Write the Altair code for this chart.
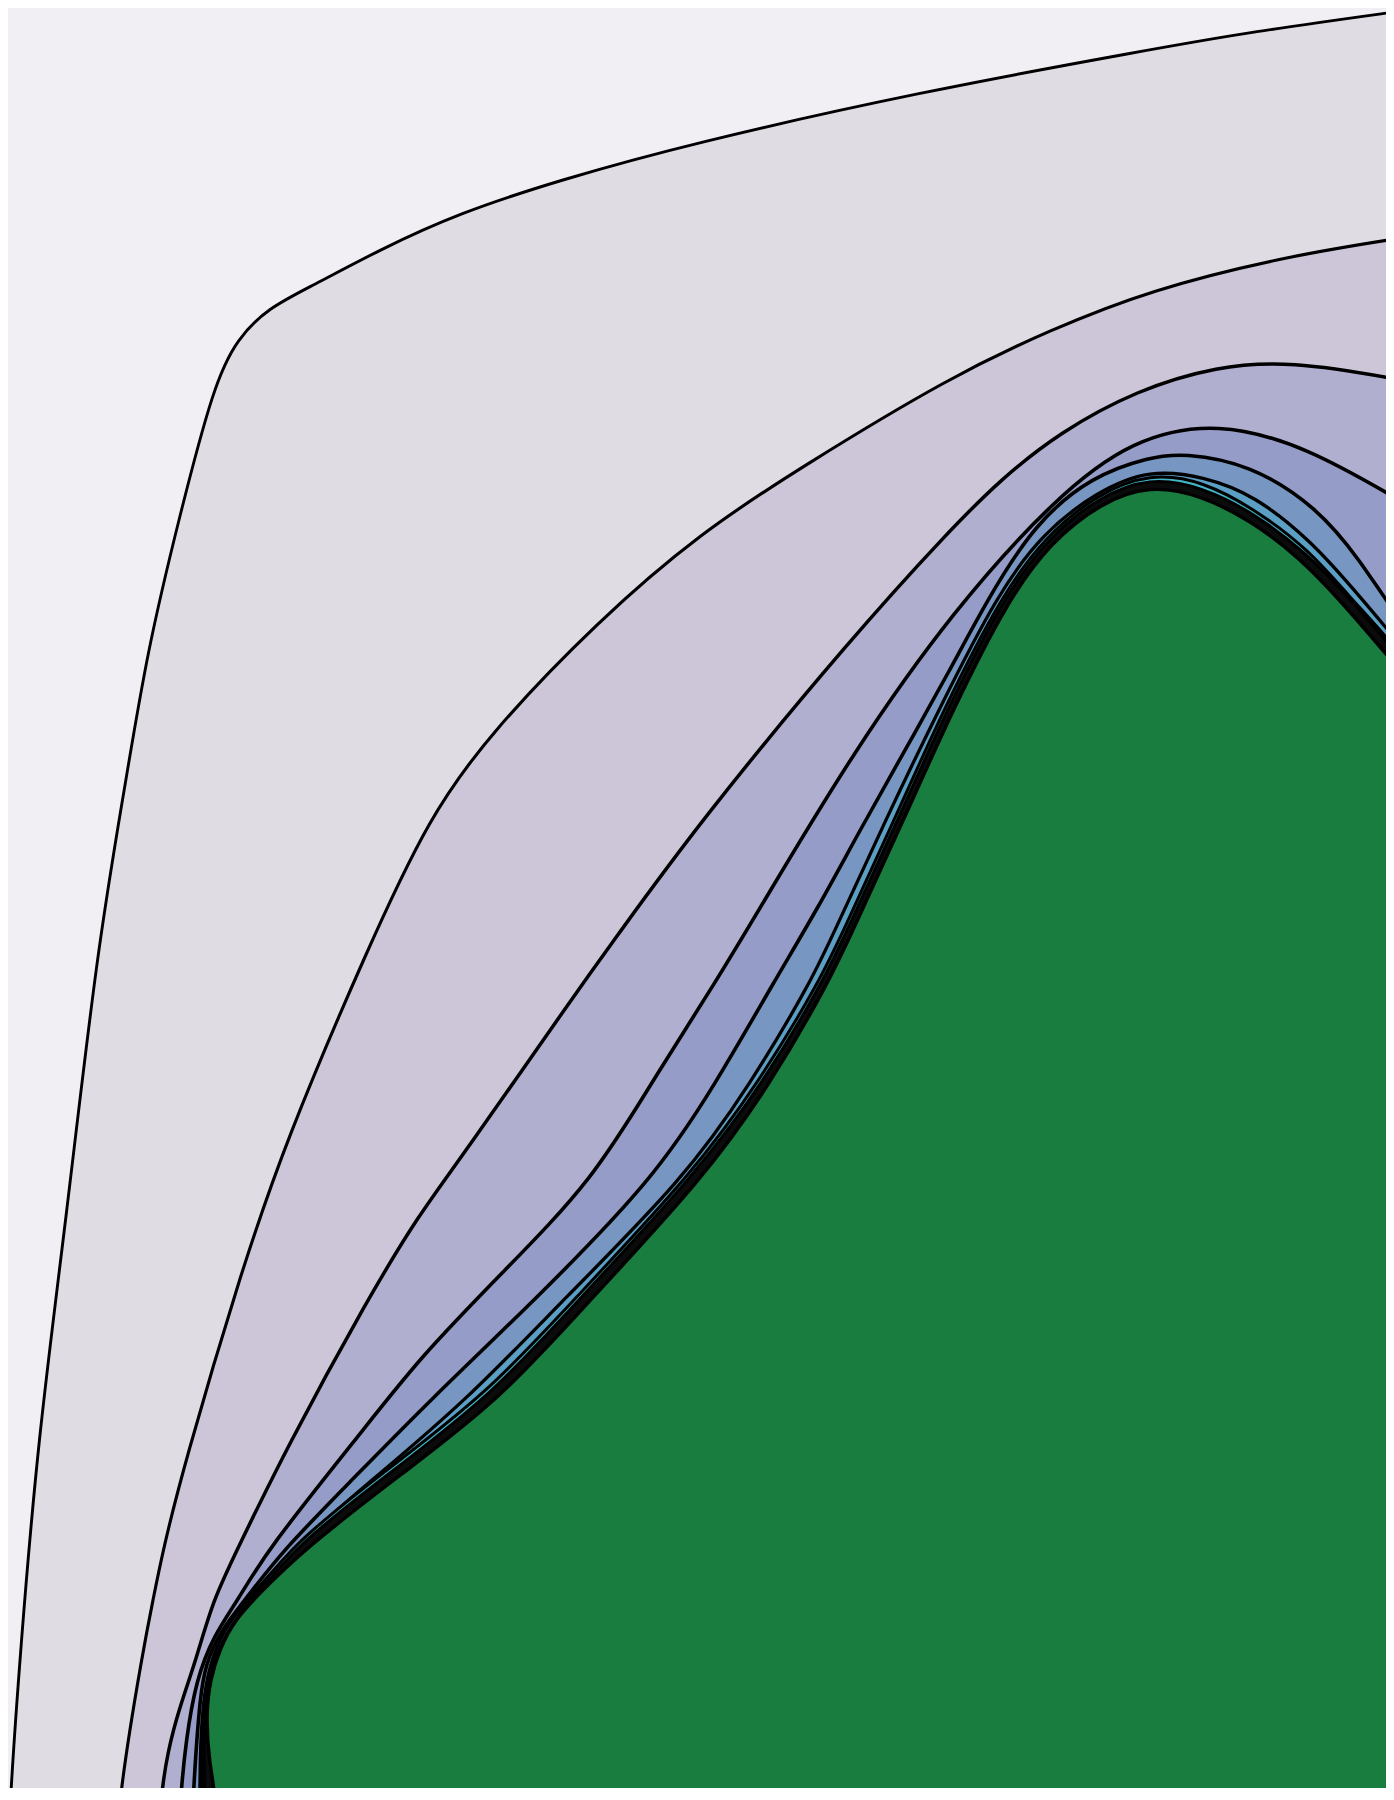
import altair as alt
import pandas as pd

# ---- contour bands (outer -> inner), x/y in reference pixel units ----
# each list: lead-in point, traced contour (bottom edge -> right edge), lead-out points
c1_x = [7, 10, 20, 38, 66, 97, 125, 147, 179, 214, 237, 268, 312, 379, 459, 560, 689, 919, 1148, 1250, 1394, 1460, 1530, 1800]
c1_y = [1880, 1800, 1655, 1438, 1221, 950, 786, 652, 518, 384, 339, 308, 286, 250, 213, 180, 144, 92, 50, 32, 12, 3, -7, 2300]

c2_x = [115, 118, 143, 153, 163, 184, 240, 286, 367, 429, 491, 598, 700, 803, 950, 1050, 1150, 1283, 1394, 1460, 1530, 1800]
c2_y = [1880, 1800, 1650, 1600, 1550, 1465, 1275, 1140, 950, 817, 732, 621, 533, 466, 377, 330, 290, 257, 239, 229, 218, 2300]

c3_x = [157, 160, 168, 179, 196, 213, 237, 286, 367, 420, 459, 585, 607, 700, 853, 950, 1000, 1060, 1137, 1217, 1290, 1394, 1460, 1530, 1800]
c3_y = [1880, 1800, 1750, 1709, 1660, 1600, 1550, 1449, 1300, 1213, 1161, 980, 950, 821, 636, 530, 480, 432, 390, 366, 361, 378, 392, 405, 2300]

c4_x = [177, 180, 186, 196, 214, 238, 267, 357, 420, 505, 593, 653, 717, 760, 853, 954, 1056, 1132, 1218, 1309, 1394, 1460, 1530, 1800]
c4_y = [1880, 1800, 1740, 1680, 1635, 1600, 1550, 1438, 1357, 1270, 1180, 1080, 980, 908, 752, 609, 497, 439, 421, 448, 497, 535, 580, 2300]

c5_x = [190, 193, 196, 200, 205, 221, 245, 283, 352, 430, 535, 653, 715, 775, 818, 860, 904, 950, 987, 1035, 1092, 1150, 1183, 1250, 1317, 1360, 1394, 1460, 1530, 1800]
c5_y = [1880, 1800, 1750, 1700, 1665, 1630, 1600, 1550, 1480, 1400, 1300, 1180, 1085, 980, 908, 830, 752, 670, 600, 523, 476, 457, 453, 464, 507, 560, 613, 700, 790, 2300]

c6_x = [198, 200, 200, 202, 207, 218, 233, 248, 290, 372, 467, 563, 683, 750, 812, 835, 886, 940, 998, 1043, 1096, 1150, 1205, 1254, 1310, 1350, 1394, 1460, 1530, 1800]
c6_y = [1880, 1800, 1760, 1715, 1675, 1642, 1617, 1600, 1550, 1480, 1400, 1300, 1180, 1085, 980, 930, 819, 707, 593, 533, 492, 469, 477, 495, 540, 585, 637, 718, 805, 2300]

c7_x = [201, 203, 202, 203, 208, 220, 236, 251, 293, 392, 490, 580, 691, 760, 822, 845, 896, 946, 1002, 1045, 1097, 1150, 1203, 1256, 1308, 1348, 1394, 1460, 1530, 1800]
c7_y = [1880, 1800, 1760, 1715, 1677, 1645, 1618, 1600, 1543, 1466, 1391, 1293, 1175, 1081, 977, 927, 816, 704, 595, 537, 494, 473, 481, 510, 549, 595, 645, 724, 812, 2300]

c8_x = [203, 205, 204, 204, 209, 222, 238, 253, 296, 395, 493, 583, 694, 764, 825, 848, 899, 949, 1004, 1047, 1098, 1150, 1202, 1254, 1305, 1346, 1394, 1460, 1530, 1800]
c8_y = [1880, 1800, 1760, 1715, 1678, 1646, 1619, 1600, 1545, 1469, 1394, 1295, 1176, 1082, 978, 928, 817, 705, 597, 539, 497, 477, 487, 513, 552, 594, 650, 730, 818, 2300]

g_x = [216, 217, 209, 206, 210, 220, 235, 255, 303, 400, 500, 590, 702, 770, 830, 853, 904, 954, 1008, 1050, 1100, 1150, 1200, 1250, 1300, 1340, 1394, 1460, 1530, 1800]
g_y = [1880, 1800, 1763, 1715, 1680, 1648, 1620, 1598, 1550, 1475, 1400, 1300, 1180, 1085, 980, 930, 819, 707, 600, 543, 503, 485, 495, 520, 558, 600, 663, 742, 830, 2300]

band_names = ["c1", "c2", "c3", "c4", "c5", "c6", "c7", "c8", "core"]
band_x = [c1_x, c2_x, c3_x, c4_x, c5_x, c6_x, c7_x, c8_x, g_x]
band_y = [c1_y, c2_y, c3_y, c4_y, c5_y, c6_y, c7_y, c8_y, g_y]
band_fill = ["#dfdce3", "#cdc5d8", "#b1afcf", "#959cc8", "#7796c1", "#5c9fc5",
             "#42b4c6", "#0b0b0b", "#1a7d40"]
band_width = [2.9, 3.1, 3.5, 3.6, 3.6, 3.3, 3.0, 3.0, 3.4]

BG = "#f1eff3"
W, H = 1378, 1780

xs = alt.Scale(domain=[8, 8 + W], nice=False, zero=False)
ys = alt.Scale(domain=[8 + H, 8], nice=False, zero=False)

layers = []
for name, xv, yv, fc, sw in zip(band_names, band_x, band_y, band_fill, band_width):
    df = pd.DataFrame({"x": xv, "y": yv, "i": list(range(len(xv))), "band": name})
    layers.append(
        alt.Chart(df)
        .mark_line(interpolate="basis", fill=fc, stroke="black",
                   strokeWidth=sw, strokeJoin="round", clip=True)
        .encode(
            x=alt.X("x:Q", scale=xs, axis=None),
            y=alt.Y("y:Q", scale=ys, axis=None),
            order=alt.Order("i:Q"),
        )
    )

chart = (
    alt.layer(*layers)
    .properties(width=W, height=H, padding=0, background=BG)
    .configure_view(stroke=None, fill=BG)
)

chart.save("out.html", embed_options={"renderer": "svg", "actions": False})
